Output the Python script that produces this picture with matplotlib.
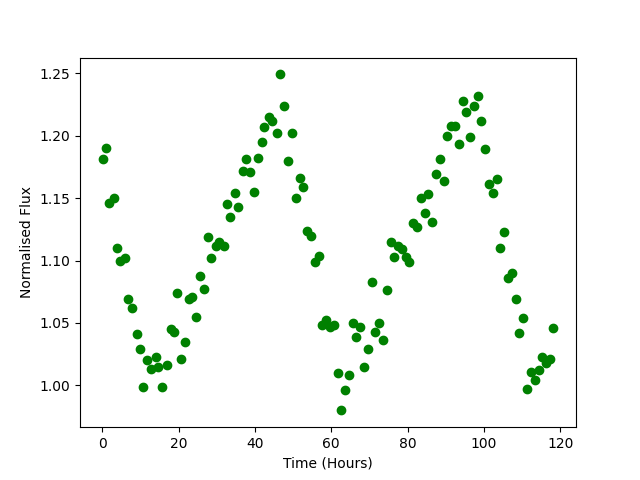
import matplotlib
matplotlib.use("Agg")
import matplotlib.pyplot as plt

# time of each reading, hours
time_hours = [
    0.1, 0.9, 1.9, 3.0, 4.0, 4.7, 5.9, 6.8, 7.9, 9.0,
    9.8, 10.8, 11.7, 12.9, 14.0, 14.7, 15.8, 16.9, 17.9, 18.9,
    19.7, 20.7, 21.8, 22.8, 23.6, 24.7, 25.7, 26.8, 27.8, 28.6,
    29.7, 30.7, 31.8, 32.8, 33.6, 34.7, 35.7, 36.8, 37.8, 38.6,
    39.7, 40.7, 41.8, 42.5, 43.6, 44.6, 45.7, 46.7, 47.5, 48.6,
    49.6, 50.7, 51.7, 52.5, 53.6, 54.6, 55.7, 56.7, 57.5, 58.6,
    59.6, 60.7, 61.7, 62.5, 63.6, 64.6, 65.7, 66.4, 67.5, 68.5,
    69.6, 70.6, 71.4, 72.5, 73.5, 74.6, 75.6, 76.4, 77.5, 78.5,
    79.6, 80.4, 81.4, 82.5, 83.5, 84.6, 85.3, 86.4, 87.4, 88.5,
    89.5, 90.3, 91.4, 92.4, 93.5, 94.5, 95.3, 96.4, 97.4, 98.5,
    99.3, 100.3, 101.4, 102.4, 103.5, 104.3, 105.3, 106.4, 107.4, 108.5,
    109.2, 110.3, 111.3, 112.4, 113.4, 114.5, 115.3, 116.3, 117.4, 118.2,
]

# normalised flux
flux = [
    1.181, 1.190, 1.146, 1.150, 1.110, 1.100, 1.102, 1.069, 1.062, 1.041,
    1.029, 0.999, 1.020, 1.013, 1.023, 1.015, 0.999, 1.016, 1.045, 1.043,
    1.074, 1.021, 1.035, 1.069, 1.071, 1.055, 1.088, 1.077, 1.119, 1.102,
    1.112, 1.115, 1.112, 1.145, 1.135, 1.154, 1.143, 1.172, 1.181, 1.171,
    1.155, 1.182, 1.195, 1.207, 1.215, 1.212, 1.202, 1.249, 1.224, 1.180,
    1.202, 1.150, 1.166, 1.159, 1.124, 1.120, 1.099, 1.104, 1.048, 1.052,
    1.047, 1.048, 1.010, 0.980, 0.996, 1.008, 1.050, 1.039, 1.047, 1.015,
    1.029, 1.083, 1.043, 1.050, 1.036, 1.076, 1.115, 1.103, 1.112, 1.109,
    1.103, 1.099, 1.130, 1.127, 1.150, 1.138, 1.153, 1.131, 1.169, 1.181,
    1.164, 1.200, 1.208, 1.208, 1.193, 1.228, 1.219, 1.199, 1.224, 1.232,
    1.212, 1.189, 1.161, 1.154, 1.165, 1.110, 1.123, 1.086, 1.090, 1.069,
    1.042, 1.054, 0.997, 1.011, 1.004, 1.012, 1.023, 1.018, 1.021, 1.046,
]

fig = plt.figure(figsize=(6.4, 4.8), dpi=100)
plt.plot(time_hours, flux, 'o', color='green')
plt.xlabel('Time (Hours)')
plt.ylabel('Normalised Flux')
plt.savefig('out.png')
